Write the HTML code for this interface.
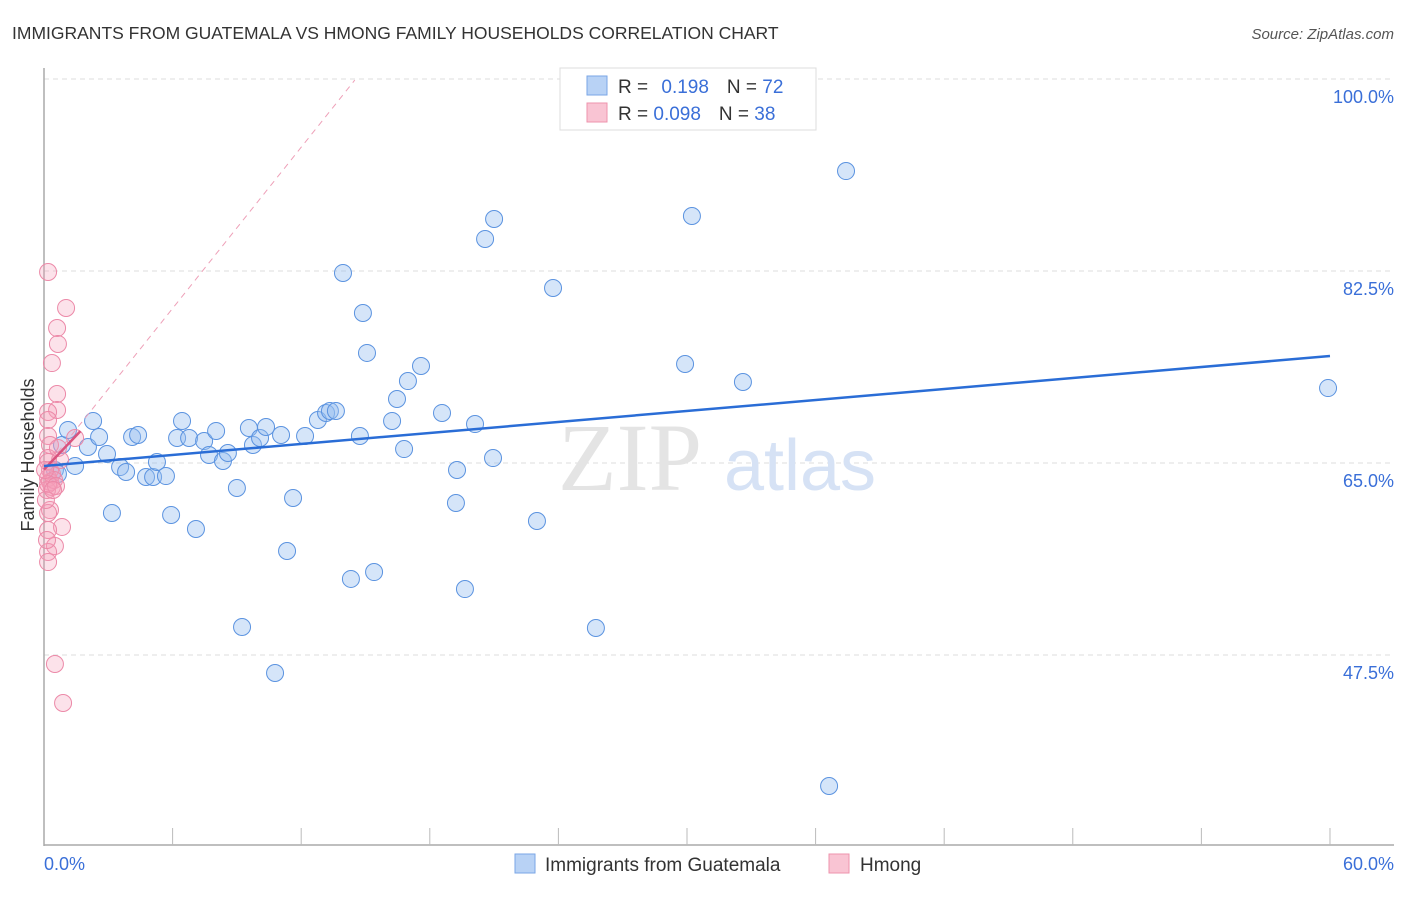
<!DOCTYPE html>
<html><head><meta charset="utf-8"><style>
body{margin:0;background:#fff;font-family:"Liberation Sans",sans-serif}
</style></head><body>
<svg width="1406" height="892" xmlns="http://www.w3.org/2000/svg">
<text x="12" y="39" font-size="17.5" fill="#333">IMMIGRANTS FROM GUATEMALA VS HMONG FAMILY HOUSEHOLDS CORRELATION CHART</text>
<text x="1394" y="39" font-size="15" fill="#555" font-style="italic" text-anchor="end">Source: ZipAtlas.com</text>
<g id="grid"></g>
<text x="630" y="490" font-size="96" fill="#e4e4e4" font-family="Liberation Serif" text-anchor="middle">ZIP</text>
<text x="800" y="490" font-size="72" fill="#d6e2f5" text-anchor="middle">atlas</text>
<g id="marks"></g>
<text x="34" y="455" font-size="18" fill="#333" transform="rotate(-90 34 455)" text-anchor="middle">Family Households</text>
<text x="44" y="870" font-size="18" fill="#3a6fd8">0.0%</text>
<text x="1394" y="870" font-size="18" fill="#3a6fd8" text-anchor="end">60.0%</text>
<g>
<rect x="560" y="68" width="256" height="62" fill="#fff" stroke="#ddd"/>
<rect x="587" y="76" width="20" height="19" fill="#b8d2f5" stroke="#7aa6e6"/>
<rect x="587" y="103" width="20" height="19" fill="#f9c4d3" stroke="#ee93ad"/>
<text x="618" y="93" font-size="19" fill="#333">R = <tspan fill="#3a6fd8" dx="8">0.198</tspan><tspan dx="18">N = </tspan><tspan fill="#3a6fd8">72</tspan></text>
<text x="618" y="120" font-size="19" fill="#333">R = <tspan fill="#3a6fd8">0.098</tspan><tspan dx="18">N = </tspan><tspan fill="#3a6fd8">38</tspan></text>
</g>
<g>
<rect x="515" y="854" width="20" height="19" fill="#b8d2f5" stroke="#7aa6e6"/>
<text x="545" y="871" font-size="19" fill="#333">Immigrants from Guatemala</text>
<rect x="829" y="854" width="20" height="19" fill="#f9c4d3" stroke="#ee93ad"/>
<text x="860" y="871" font-size="19" fill="#333">Hmong</text>
</g>
</svg>
<script>
const yTicks=[100,82.5,65,47.5];
const yTickLabels=["100.0%","82.5%","65.0%","47.5%"];
const xTicks=[0,6,12,18,24,30,36,42,48,54,60];
const bluePx=[[55,470],[58,474],[62,445],[68,430],[75,466],[88,447],[93,421],[99,437],[107,454],[112,513],[120,467],[126,472],[132,437],[138,435],[146,477],[153,477],[157,462],[166,476],[171,515],[177,438],[182,421],[189,438],[196,529],[204,441],[209,455],[216,431],[223,461],[228,453],[237,488],[242,627],[249,428],[253,445],[260,438],[266,427],[275,673],[281,435],[287,551],[293,498],[305,436],[318,420],[326,413],[330,411],[336,411],[343,273],[351,579],[360,436],[363,313],[367,353],[374,572],[392,421],[397,399],[404,449],[408,381],[421,366],[442,413],[457,470],[456,503],[465,589],[475,424],[485,239],[493,458],[494,219],[537,521],[553,288],[596,628],[685,364],[692,216],[743,382],[829,786],[846,171],[1328,388]];
const pinkPx=[[48,272],[66,308],[57,328],[58,344],[52,363],[57,394],[57,410],[48,412],[48,420],[48,436],[50,445],[75,438],[48,458],[48,462],[50,470],[48,478],[50,482],[52,487],[47,490],[50,510],[48,513],[62,527],[48,530],[55,546],[48,552],[48,562],[55,664],[63,703],[52,474],[54,480],[48,484],[58,448],[46,500],[47,540],[56,486],[45,470],[60,460],[53,490]];
const blueX=bluePx.map(p=>+((p[0]-44)/21.433).toFixed(2));
const blueY=bluePx.map(p=>+(100-(p[1]-79)/10.971).toFixed(2));
const pinkX=pinkPx.map(p=>+((p[0]-44)/21.433).toFixed(2));
const pinkY=pinkPx.map(p=>+(100-(p[1]-79)/10.971).toFixed(2));
const blueTrend=[[0,64.73],[60,74.75]];
const pinkTrend=[[0,64.4],[1.7,67.9]];
const pinkDash=[[0,64.4],[14.5,99.9]];
const X=v=>44+v*21.433, Y=v=>79+(100-v)*10.971;
const NS="http://www.w3.org/2000/svg";
function mk(t,a,p){const e=document.createElementNS(NS,t);for(const k in a)e.setAttribute(k,a[k]);p.appendChild(e);return e;}
const g=document.getElementById('grid'), m=document.getElementById('marks');
yTicks.forEach((t,i)=>{
 const l=mk('line',{x1:44,x2:1394,y1:Y(t),y2:Y(t),stroke:'#ddd','stroke-dasharray':'5,4'},g);
 
 
 const tx=mk('text',{x:1394,y:Y(t)+24,'font-size':18,fill:'#3a6fd8','text-anchor':'end'},g);
 tx.textContent=yTickLabels[i];
 
 
});
const ax=mk('line',{x1:44,x2:44,y1:68,y2:846,stroke:'#aaa','stroke-width':1.5},g);


const bx=mk('line',{x1:44,x2:1394,y1:845,y2:845,stroke:'#aaa','stroke-width':1.5},g);


xTicks.forEach(t=>{if(t===0)return;const l=mk('line',{x1:X(t),x2:X(t),y1:828,y2:845,stroke:'#bbb'},g);
 
 });
blueX.forEach((x,i)=>{const c=mk('circle',{cx:X(x),cy:Y(blueY[i]),r:8.5,fill:'rgba(150,190,240,0.4)',stroke:'#5b93e0','stroke-width':1},m);
 
 });
pinkX.forEach((x,i)=>{const c=mk('circle',{cx:X(x),cy:Y(pinkY[i]),r:8.5,fill:'rgba(245,160,185,0.3)',stroke:'#ec89a8','stroke-width':1},m);
 
 });
const d=mk('line',{x1:X(pinkDash[0][0]),y1:Y(pinkDash[0][1]),x2:X(pinkDash[1][0]),y2:Y(pinkDash[1][1]),stroke:'#eea0b8','stroke-dasharray':'6,5'},m);


const pt=mk('line',{x1:X(pinkTrend[0][0]),y1:Y(pinkTrend[0][1]),x2:X(pinkTrend[1][0]),y2:Y(pinkTrend[1][1]),stroke:'#d9527e','stroke-width':2.5},m);


const bt=mk('line',{x1:X(blueTrend[0][0]),y1:Y(blueTrend[0][1]),x2:X(blueTrend[1][0]),y2:Y(blueTrend[1][1]),stroke:'#2a6dd6','stroke-width':2.5},m);


</script>
</body></html>
